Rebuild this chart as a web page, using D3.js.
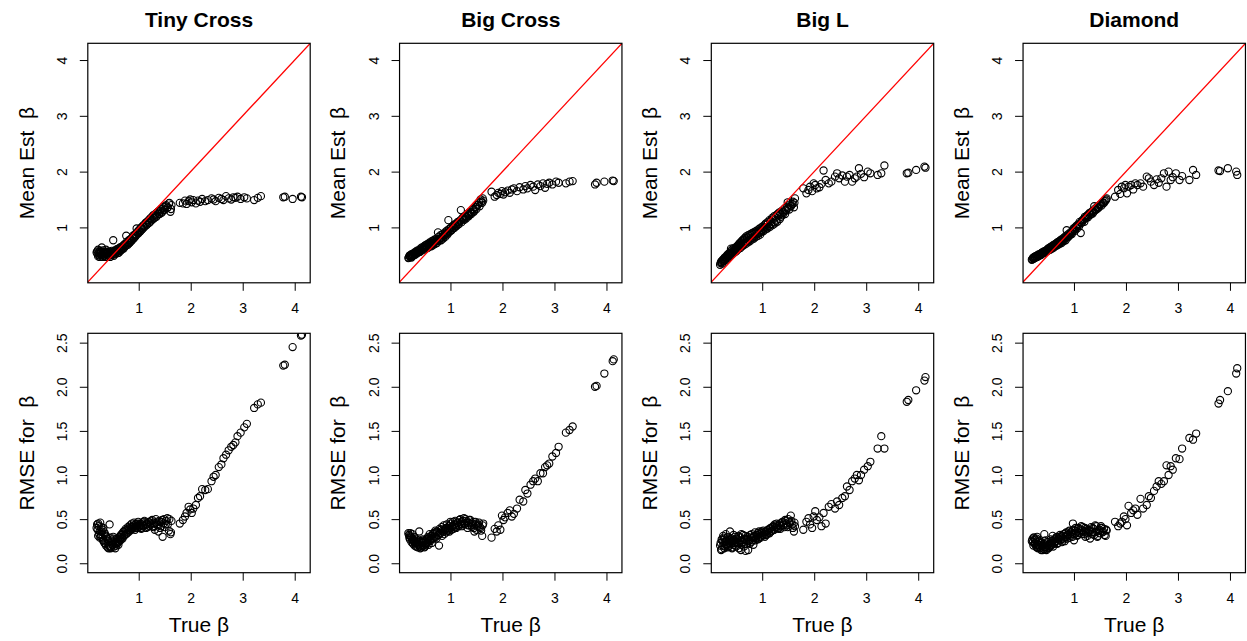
<!DOCTYPE html>
<html>
<head>
<meta charset="utf-8">
<script src="https://cdn.jsdelivr.net/npm/d3@7"></script>
<style>
  body { margin: 0; background: #fff; }
  text { font-family: "Liberation Sans", Arial, sans-serif; }
</style>
</head>
<body>
<div id="chart"></div>
<script>

// true beta, shared by all four designs
var trueBeta = [
  0.20,0.21,0.23,0.24,0.26,0.27,0.29,0.30,0.32,0.33,
  0.35,0.36,0.38,0.40,0.41,0.43,0.44,0.46,0.48,0.49,
  0.51,0.53,0.54,0.56,0.58,0.59,0.61,0.63,0.64,0.66,
  0.68,0.70,0.72,0.74,0.76,0.78,0.80,0.82,0.84,0.86,
  0.88,0.90,0.92,0.94,0.96,0.98,1.00,1.02,1.04,1.06,
  1.08,1.10,1.13,1.15,1.17,1.20,1.22,1.24,1.27,1.29,
  1.31,1.34,1.36,1.39,1.41,1.44,1.46,1.49,1.52,1.55,
  1.58,1.61,1.63,
  1.79,1.85,1.89,1.92,1.96,1.99,2.02,2.05,2.10,2.14,
  2.18,2.22,2.28,2.33,2.40,2.44,2.48,2.54,2.59,2.63,
  2.68,2.73,2.78,2.82,2.86,2.90,2.96,3.03,3.08,3.22,
  3.29,3.35,
  3.78,3.81,3.96,4.12,4.14
];
// second batch of small true beta values (the dense part of the design)
var trueBetaExtra = [
  0.19,0.22,0.22,0.25,0.25,0.28,0.28,0.31,0.31,0.34,
  0.34,0.37,0.37,0.39,0.42,0.42,0.45,0.45,0.47,0.50,
  0.50,0.52,0.55,0.55,0.57,0.60,0.60,0.62,0.65,0.65,
  0.67,0.69,0.71,0.73,0.75,0.77,0.79,0.81,0.83,0.85,
  0.87,0.89,0.91,0.93,0.95,0.97,0.99,1.01,1.03,1.05,
  1.07,1.09,1.11,1.14,1.16,1.19,1.21,1.23,1.26,1.28,
  1.30,1.33,1.35,1.38,1.40,1.43,1.45,1.48,1.50,1.53,
  1.56,1.59,1.62
];

var tinyCrossEst = [
  0.57,0.52,0.55,0.50,0.58,0.53,0.64,0.51,0.55,0.49,
  0.56,0.52,0.54,0.50,0.57,0.53,0.55,0.52,0.58,0.54,
  0.77,0.56,0.59,0.55,0.61,0.57,0.62,0.58,0.64,0.61,
  0.66,0.63,0.69,0.66,0.85,0.70,0.74,0.72,0.78,0.76,
  0.82,0.80,0.86,0.84,0.98,0.90,0.94,0.92,0.99,0.96,
  1.02,1.00,1.07,1.04,1.10,1.08,1.15,1.12,1.20,1.16,
  1.22,1.19,1.27,1.24,1.30,1.26,1.34,1.31,1.38,1.35,
  1.43,1.28,1.40,
  1.44,1.43,1.48,1.42,1.47,1.50,1.45,1.49,1.43,1.48,
  1.46,1.51,1.47,1.49,1.52,1.50,1.47,1.53,1.51,1.49,
  1.56,1.52,1.50,1.54,1.53,1.55,1.51,1.54,1.52,1.49,
  1.53,1.56,
  1.54,1.55,1.51,1.55,1.54
];
var tinyCrossEstExtra = [
  0.55,0.48,0.60,0.53,0.47,0.56,0.50,0.59,0.47,0.54,
  0.50,0.60,0.47,0.53,0.49,0.56,0.50,0.47,0.55,0.51,
  0.53,0.49,0.58,0.52,0.56,0.54,0.60,0.55,0.58,0.63,
  0.60,0.66,0.62,0.70,0.67,0.74,0.69,0.77,0.73,0.80,
  0.77,0.85,0.81,0.88,0.86,0.92,0.89,0.96,0.93,1.00,
  0.97,1.04,1.01,1.09,1.05,1.13,1.09,1.17,1.14,1.22,
  1.17,1.25,1.21,1.29,1.24,1.33,1.28,1.37,1.32,1.40,
  1.36,1.44,1.33
];
var tinyCrossRmse = [
  0.44,0.38,0.42,0.33,0.46,0.30,0.36,0.28,0.40,0.25,
  0.33,0.22,0.30,0.18,0.27,0.20,0.44,0.17,0.24,0.21,
  0.30,0.19,0.26,0.22,0.28,0.24,0.21,0.30,0.27,0.32,
  0.29,0.35,0.31,0.37,0.33,0.38,0.35,0.40,0.37,0.41,
  0.39,0.43,0.40,0.44,0.42,0.45,0.41,0.43,0.40,0.44,
  0.42,0.47,0.43,0.45,0.41,0.46,0.44,0.48,0.42,0.45,
  0.38,0.46,0.43,0.48,0.40,0.47,0.30,0.50,0.44,0.51,
  0.37,0.33,0.48,
  0.45,0.49,0.53,0.57,0.64,0.61,0.57,0.62,0.66,0.74,
  0.76,0.84,0.83,0.84,0.93,0.98,1.00,1.09,1.12,1.19,
  1.23,1.28,1.32,1.34,1.37,1.44,1.48,1.54,1.58,1.76,
  1.80,1.82,
  2.24,2.25,2.45,2.58,2.59
];
var tinyCrossRmseExtra = [
  0.40,0.31,0.45,0.36,0.29,0.41,0.32,0.38,0.26,0.35,
  0.23,0.31,0.20,0.28,0.17,0.25,0.19,0.29,0.18,0.26,
  0.21,0.28,0.17,0.24,0.20,0.27,0.23,0.25,0.29,0.26,
  0.33,0.28,0.36,0.32,0.39,0.34,0.41,0.37,0.43,0.39,
  0.45,0.41,0.46,0.38,0.44,0.40,0.47,0.42,0.45,0.39,
  0.46,0.43,0.48,0.40,0.44,0.47,0.42,0.45,0.49,0.41,
  0.46,0.50,0.44,0.36,0.47,0.42,0.49,0.45,0.41,0.48,
  0.44,0.50,0.35
];

var bigCrossEst = [
  0.46,0.49,0.47,0.50,0.48,0.51,0.50,0.53,0.51,0.54,
  0.53,0.56,0.55,0.58,0.56,0.60,0.58,0.61,0.62,0.60,
  0.64,0.62,0.66,0.63,0.67,0.65,0.69,0.66,0.71,0.68,
  0.72,0.70,0.75,0.72,0.91,0.76,0.80,0.77,0.82,0.80,
  0.86,0.83,0.90,0.87,1.13,0.92,0.98,0.95,1.01,0.99,
  1.04,1.02,1.08,1.05,1.10,1.31,1.14,1.18,1.16,1.21,
  1.19,1.25,1.22,1.28,1.26,1.33,1.30,1.37,1.40,1.45,
  1.50,1.44,1.48,
  1.64,1.55,1.58,1.62,1.60,1.65,1.59,1.63,1.66,1.62,
  1.68,1.70,1.65,1.72,1.68,1.74,1.70,1.76,1.73,1.67,
  1.77,1.74,1.79,1.71,1.78,1.80,1.77,1.82,1.80,1.79,
  1.82,1.83,
  1.77,1.80,1.82,1.84,1.83
];
var bigCrossEstExtra = [
  0.45,0.50,0.48,0.52,0.46,0.53,0.49,0.55,0.52,0.57,
  0.54,0.59,0.56,0.58,0.62,0.59,0.64,0.61,0.63,0.67,
  0.64,0.68,0.70,0.66,0.69,0.73,0.70,0.72,0.76,0.73,
  0.75,0.78,0.74,0.80,0.77,0.83,0.79,0.86,0.82,0.88,
  0.85,0.91,0.88,0.94,0.90,0.97,0.93,1.00,0.96,1.03,
  0.99,1.06,1.02,1.10,1.06,1.13,1.09,1.16,1.13,1.20,
  1.16,1.24,1.20,1.28,1.24,1.32,1.28,1.36,1.33,1.41,
  1.38,1.46,1.52
];
var bigCrossRmse = [
  0.32,0.29,0.34,0.30,0.27,0.33,0.25,0.30,0.23,0.28,
  0.24,0.26,0.21,0.36,0.19,0.25,0.18,0.23,0.20,0.26,
  0.19,0.24,0.22,0.27,0.21,0.29,0.25,0.31,0.23,0.33,
  0.28,0.35,0.30,0.36,0.32,0.20,0.34,0.38,0.31,0.36,
  0.33,0.39,0.35,0.37,0.40,0.36,0.47,0.38,0.42,0.39,
  0.44,0.41,0.46,0.43,0.49,0.45,0.42,0.48,0.44,0.50,
  0.46,0.43,0.49,0.45,0.41,0.47,0.36,0.44,0.42,0.46,
  0.40,0.31,0.45,
  0.29,0.39,0.36,0.43,0.38,0.54,0.49,0.52,0.57,0.60,
  0.53,0.56,0.62,0.72,0.70,0.83,0.79,0.89,0.93,0.96,
  0.93,1.02,1.02,1.09,1.11,1.13,1.21,1.25,1.32,1.48,
  1.51,1.55,
  2.00,2.01,2.15,2.29,2.31
];
var bigCrossRmseExtra = [
  0.34,0.27,0.31,0.24,0.29,0.22,0.27,0.20,0.25,0.19,
  0.23,0.18,0.22,0.26,0.20,0.17,0.24,0.21,0.27,0.18,
  0.25,0.21,0.28,0.23,0.30,0.26,0.33,0.27,0.31,0.29,
  0.34,0.30,0.37,0.28,0.35,0.32,0.39,0.34,0.41,0.37,
  0.43,0.38,0.40,0.44,0.37,0.42,0.39,0.45,0.41,0.47,
  0.43,0.48,0.40,0.46,0.42,0.50,0.47,0.44,0.51,0.45,
  0.48,0.40,0.46,0.49,0.43,0.45,0.40,0.47,0.38,0.44,
  0.41,0.37,0.43
];

var bigLEst = [
  0.36,0.38,0.35,0.40,0.39,0.43,0.41,0.45,0.44,0.48,
  0.46,0.50,0.49,0.62,0.51,0.55,0.53,0.57,0.56,0.60,
  0.58,0.62,0.61,0.66,0.63,0.68,0.66,0.70,0.68,0.72,
  0.70,0.75,0.73,0.77,0.75,0.80,0.78,0.82,0.80,0.85,
  0.83,0.88,0.85,0.90,0.87,0.92,0.95,0.93,0.98,0.96,
  1.00,0.98,1.03,1.01,1.06,1.04,1.09,1.07,1.12,1.10,
  1.25,1.15,1.19,1.22,1.26,1.24,1.30,1.45,1.32,1.38,
  1.42,1.36,1.52,
  1.70,1.61,1.67,1.73,1.65,1.79,1.76,1.70,1.72,1.78,
  2.02,1.85,1.79,1.82,1.91,1.97,1.88,1.93,1.82,1.91,
  1.94,1.82,1.88,1.91,2.06,1.96,1.90,2.00,1.97,1.94,
  1.97,2.11,
  1.97,1.98,2.03,2.09,2.07
];
var bigLEstExtra = [
  0.33,0.40,0.37,0.43,0.41,0.46,0.44,0.49,0.47,0.52,
  0.50,0.54,0.52,0.57,0.55,0.60,0.58,0.63,0.61,0.65,
  0.64,0.67,0.70,0.68,0.72,0.75,0.73,0.77,0.80,0.78,
  0.81,0.84,0.82,0.86,0.84,0.88,0.86,0.90,0.88,0.92,
  0.90,0.94,0.92,0.96,0.98,0.95,1.00,1.02,1.00,1.05,
  1.07,1.05,1.10,1.13,1.11,1.17,1.15,1.20,1.18,1.23,
  1.21,1.27,1.24,1.30,1.28,1.34,1.31,1.37,1.35,1.41,
  1.39,1.46,1.44
];
var bigLRmse = [
  0.23,0.15,0.26,0.20,0.29,0.17,0.24,0.33,0.21,0.27,
  0.19,0.25,0.36,0.22,0.28,0.18,0.26,0.23,0.30,0.20,
  0.27,0.24,0.31,0.22,0.29,0.15,0.26,0.32,0.24,0.28,
  0.14,0.27,0.30,0.25,0.22,0.29,0.33,0.26,0.30,0.35,
  0.28,0.32,0.27,0.36,0.30,0.34,0.31,0.37,0.33,0.35,
  0.32,0.37,0.35,0.39,0.36,0.41,0.38,0.44,0.40,0.43,
  0.39,0.45,0.42,0.47,0.43,0.49,0.45,0.41,0.47,0.54,
  0.44,0.36,0.42,
  0.38,0.47,0.51,0.44,0.40,0.53,0.59,0.49,0.52,0.42,
  0.57,0.45,0.64,0.67,0.62,0.70,0.66,0.74,0.76,0.87,
  0.83,0.93,0.96,1.00,0.94,1.00,1.06,1.10,1.15,1.30,
  1.44,1.30,
  1.83,1.85,1.96,2.07,2.11
];
var bigLRmseExtra = [
  0.20,0.27,0.16,0.24,0.31,0.19,0.28,0.22,0.25,0.18,
  0.30,0.23,0.20,0.27,0.17,0.25,0.32,0.21,0.26,0.19,
  0.28,0.23,0.17,0.30,0.26,0.21,0.33,0.24,0.19,0.27,
  0.31,0.22,0.28,0.15,0.26,0.32,0.24,0.29,0.21,0.31,
  0.26,0.30,0.34,0.28,0.33,0.29,0.36,0.32,0.35,0.30,
  0.36,0.33,0.38,0.34,0.40,0.37,0.42,0.38,0.41,0.45,
  0.40,0.43,0.39,0.46,0.44,0.41,0.48,0.43,0.50,0.45,
  0.48,0.40,0.46
];

var diamondEst = [
  0.43,0.45,0.44,0.47,0.46,0.48,0.47,0.50,0.49,0.51,
  0.50,0.53,0.52,0.55,0.54,0.56,0.55,0.58,0.57,0.60,
  0.59,0.61,0.60,0.63,0.62,0.65,0.64,0.67,0.66,0.69,
  0.68,0.71,0.70,0.73,0.72,0.76,0.75,0.78,0.77,0.95,
  0.82,0.84,0.86,0.89,0.88,0.93,0.96,0.94,1.00,0.98,
  1.04,1.02,0.90,1.08,1.12,1.10,1.16,1.20,1.18,1.24,
  1.22,1.27,1.25,1.38,1.31,1.36,1.34,1.40,1.42,1.45,
  1.44,1.48,1.52,
  1.55,1.67,1.60,1.73,1.70,1.76,1.61,1.73,1.76,1.68,
  1.79,1.76,1.79,1.73,1.91,1.88,1.82,1.76,1.86,1.80,
  1.88,1.97,1.73,2.00,1.85,1.90,1.97,1.85,1.92,1.85,
  2.03,1.94,
  2.02,2.01,2.06,2.00,1.94
];
var diamondEstExtra = [
  0.42,0.46,0.44,0.48,0.45,0.49,0.47,0.51,0.48,0.52,
  0.50,0.54,0.51,0.55,0.57,0.54,0.58,0.56,0.59,0.62,
  0.60,0.63,0.65,0.62,0.66,0.68,0.66,0.69,0.71,0.70,
  0.72,0.74,0.73,0.76,0.78,0.77,0.80,0.82,0.81,0.85,
  0.84,0.88,0.87,0.91,0.90,0.94,0.98,0.97,1.01,1.03,
  1.02,1.06,1.10,1.09,1.13,1.15,1.19,1.17,1.22,1.21,
  1.26,1.24,1.29,1.28,1.33,1.32,1.37,1.36,1.40,1.39,
  1.43,1.47,1.50
];
var diamondRmse = [
  0.27,0.24,0.29,0.22,0.26,0.20,0.30,0.18,0.25,0.21,
  0.17,0.23,0.19,0.15,0.22,0.33,0.18,0.16,0.24,0.20,
  0.17,0.22,0.19,0.25,0.21,0.31,0.23,0.27,0.24,0.29,
  0.22,0.28,0.30,0.26,0.31,0.28,0.33,0.25,0.34,0.30,
  0.32,0.36,0.29,0.35,0.33,0.45,0.26,0.37,0.34,0.31,
  0.40,0.35,0.38,0.33,0.41,0.36,0.30,0.39,0.34,0.37,
  0.28,0.35,0.40,0.32,0.43,0.36,0.31,0.38,0.42,0.35,
  0.39,0.31,0.37,
  0.47,0.42,0.45,0.47,0.53,0.50,0.43,0.65,0.57,0.60,
  0.62,0.55,0.73,0.62,0.66,0.76,0.74,0.82,0.87,0.93,
  0.90,0.93,1.11,1.00,1.10,1.06,1.19,1.18,1.30,1.42,
  1.40,1.47,
  1.81,1.85,1.95,2.15,2.21
];
var diamondRmseExtra = [
  0.25,0.29,0.20,0.27,0.23,0.18,0.28,0.21,0.17,0.26,
  0.19,0.15,0.24,0.20,0.16,0.22,0.18,0.26,0.15,0.21,
  0.24,0.18,0.27,0.20,0.23,0.19,0.26,0.22,0.28,0.25,
  0.30,0.23,0.27,0.32,0.29,0.24,0.31,0.27,0.30,0.35,
  0.28,0.33,0.37,0.31,0.35,0.30,0.38,0.33,0.40,0.36,
  0.32,0.39,0.34,0.42,0.37,0.33,0.40,0.35,0.31,0.38,
  0.36,0.41,0.33,0.39,0.35,0.42,0.30,0.37,0.34,0.40,
  0.36,0.32,0.38
];

var titles = ["Tiny Cross", "Big Cross", "Big L", "Diamond"];
var estSeries = [
  tinyCrossEst.concat(tinyCrossEstExtra), bigCrossEst.concat(bigCrossEstExtra),
  bigLEst.concat(bigLEstExtra), diamondEst.concat(diamondEstExtra)
];
var rmseSeries = [
  tinyCrossRmse.concat(tinyCrossRmseExtra), bigCrossRmse.concat(bigCrossRmseExtra),
  bigLRmse.concat(bigLRmseExtra), diamondRmse.concat(diamondRmseExtra)
];
var allBeta = trueBeta.concat(trueBetaExtra);
var xTicks = [1, 2, 3, 4];
var estTicks = [1, 2, 3, 4];
var rmseTicks = [0, 0.5, 1, 1.5, 2, 2.5];

var width = 1247, height = 641;
var cellW = width / 4;
var plotLeft = 87.8, plotW = 222.4;
var fontFam = "Liberation Sans, Arial, sans-serif";

var svg = d3.select("#chart")
  .append("svg")
    .attr("width", width)
    .attr("height", height);

var rows = [
  {top: 43.3, bottom: 282.8, domain: [0.007, 4.30], ticks: estTicks, fmt: d3.format("d"),
   label: "Mean Est  \u03b2", series: estSeries, diag: true},
  {top: 333.3, bottom: 572.7, domain: [-0.107, 2.606], ticks: rmseTicks, fmt: d3.format(".1f"),
   label: "RMSE for  \u03b2", series: rmseSeries, diag: false}
];

titles.forEach(function(title, i) {
  var left = i * cellW + plotLeft;

  var x = d3.scaleLinear()
    .domain([0.021, 4.298])
    .range([left, left + plotW]);

  rows.forEach(function(row, r) {
    var y = d3.scaleLinear()
      .domain(row.domain)
      .range([row.bottom, row.top]);

    var clipId = "clip" + i + "_" + r;
    svg.append("clipPath").attr("id", clipId)
      .append("rect")
        .attr("x", left).attr("y", row.top)
        .attr("width", plotW).attr("height", row.bottom - row.top);

    // x axis
    var gx = svg.append("g")
      .attr("transform", "translate(0," + row.bottom + ")")
      .call(d3.axisBottom(x).tickValues(xTicks).tickSize(8).tickSizeOuter(0).tickFormat(d3.format("d")));
    gx.select(".domain").remove();
    gx.selectAll("text").attr("y", 30).attr("dy", 0)
      .attr("font-size", 14).attr("font-family", fontFam).attr("fill", "#000");

    // y axis, labels parallel to axis like base R
    var gy = svg.append("g")
      .attr("transform", "translate(" + left + ",0)")
      .call(d3.axisLeft(y).tickValues(row.ticks).tickSize(8).tickSizeOuter(0).tickFormat(row.fmt));
    gy.select(".domain").remove();
    gy.selectAll("text")
      .attr("transform", "rotate(-90)")
      .attr("x", 0).attr("y", -21).attr("dy", 0)
      .attr("text-anchor", "middle")
      .attr("font-size", 14).attr("font-family", fontFam).attr("fill", "#000");
    svg.selectAll(".tick line").attr("stroke", "#000");

    // points
    svg.append("g")
      .attr("clip-path", "url(#" + clipId + ")")
      .selectAll("circle")
      .data(row.series[i])
      .enter()
      .append("circle")
        .attr("cx", function(d, k) { return x(allBeta[k]); })
        .attr("cy", function(d) { return y(d); })
        .attr("r", 3.6)
        .style("fill", "none")
        .style("stroke", "#000")
        .style("stroke-width", 1.1);

    // 45 degree line
    if (row.diag) {
      svg.append("line")
        .attr("clip-path", "url(#" + clipId + ")")
        .attr("x1", x(0)).attr("y1", y(0))
        .attr("x2", x(4.4)).attr("y2", y(4.4))
        .attr("stroke", "#ff0000")
        .attr("stroke-width", 1.3);
    }

    // box
    svg.append("rect")
      .attr("x", left).attr("y", row.top)
      .attr("width", plotW).attr("height", row.bottom - row.top)
      .attr("fill", "none").attr("stroke", "#000").attr("stroke-width", 1.2);

    // y label
    svg.append("text")
      .attr("transform", "translate(" + (i * cellW + 33.5) + "," + ((row.top + row.bottom) / 2) + ") rotate(-90)")
      .attr("text-anchor", "middle")
      .attr("font-size", 21)
      .style("white-space", "pre")
      .text(row.label);
  });

  // title
  svg.append("text")
    .attr("x", left + plotW / 2)
    .attr("y", 26.5)
    .attr("text-anchor", "middle")
    .attr("font-size", 21)
    .attr("font-weight", "bold")
    .text(title);

  // x label under bottom row
  svg.append("text")
    .attr("x", left + plotW / 2)
    .attr("y", 631.5)
    .attr("text-anchor", "middle")
    .attr("font-size", 21)
    .text("True \u03b2");
});

</script>
</body>
</html>
